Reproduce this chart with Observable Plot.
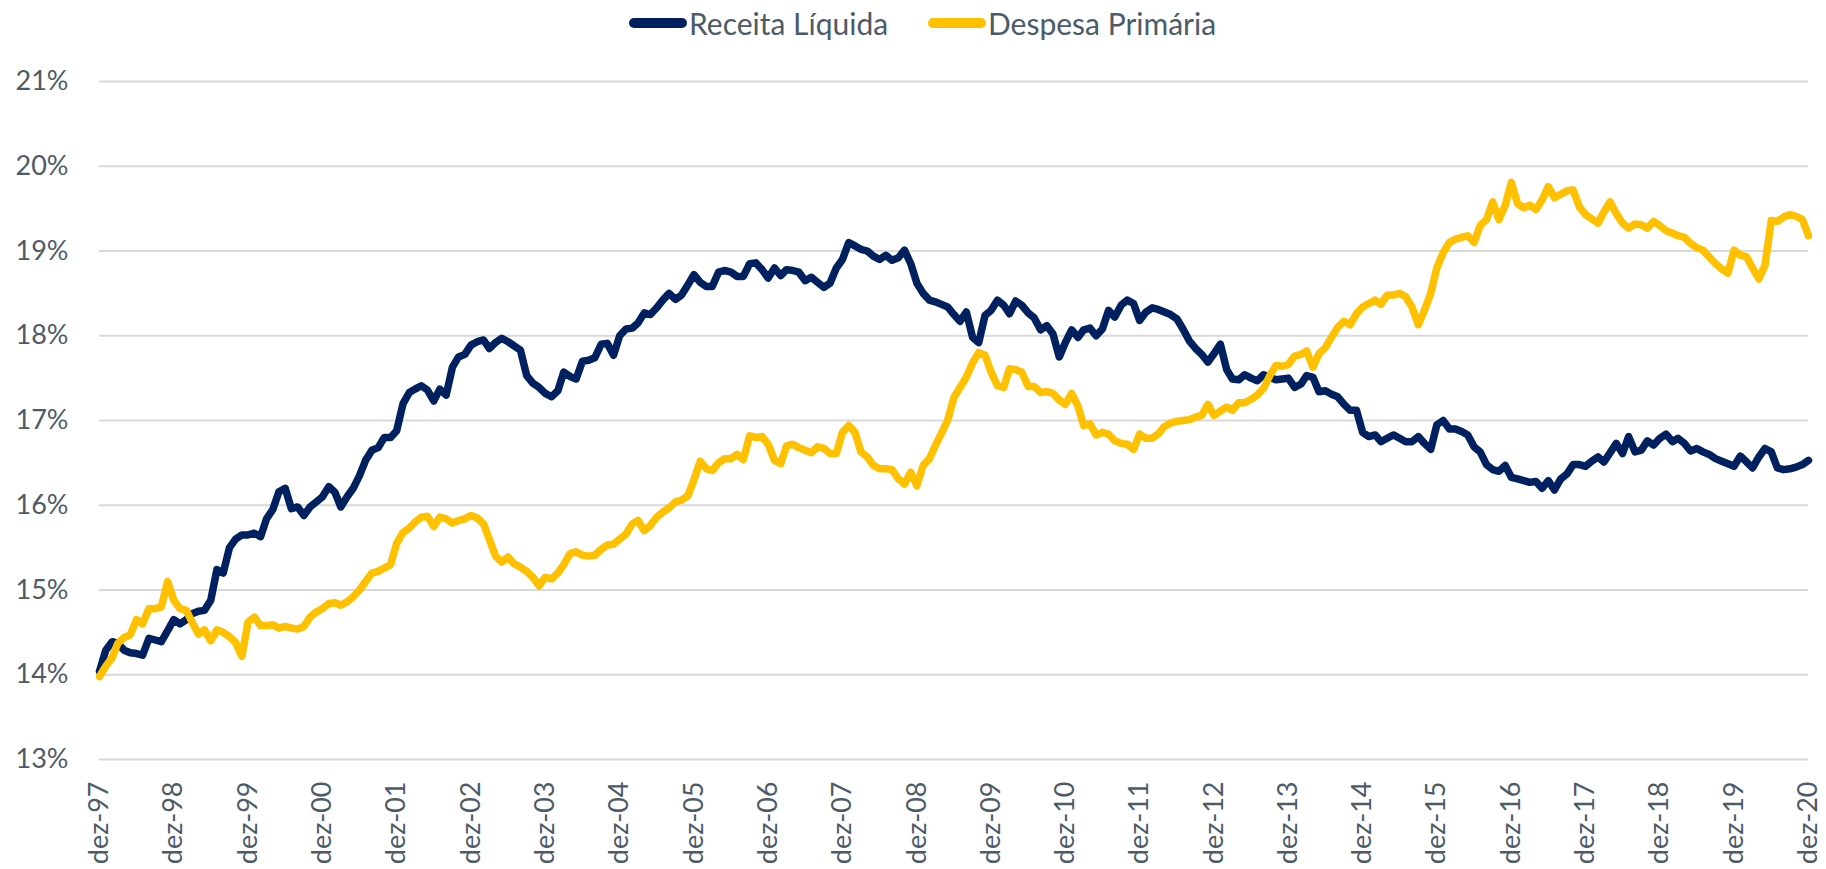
<!DOCTYPE html>
<html>
<head>
<meta charset="utf-8">
<script src="https://cdn.jsdelivr.net/npm/d3@7"></script>
<script src="https://cdn.jsdelivr.net/npm/@observablehq/plot@0.6"></script>
<style>
  html, body { margin: 0; padding: 0; background: #fff; }
  #legend { position: relative; height: 42px; font-family: Lato, sans-serif; font-size: 30px; color: #4d5b69; }
  .item { position: absolute; top: 2px; height: 42px; display: flex; align-items: center; }
  .sw { width: 58px; height: 10px; border-radius: 5px; margin-right: 2px; }
  #chart svg { display: block; }
</style>
</head>
<body>
<div id="legend"></div>
<div id="chart"></div>
<script>
// Monthly series, starting dez-97 (index 0) through dez-20 (index 276), % of GDP
const startYear = 1997, startMonth = 11; // December 1997
const receitaLiquida = [
  14.04,14.29,14.39,14.37,14.29,14.26,14.25,14.23,14.43,14.41,
  14.39,14.52,14.65,14.6,14.65,14.72,14.75,14.76,14.88,15.24,
  15.2,15.5,15.6,15.65,15.65,15.67,15.63,15.84,15.95,16.16,
  16.2,15.96,15.98,15.88,15.98,16.04,16.1,16.22,16.15,15.98,
  16.1,16.2,16.35,16.53,16.65,16.68,16.8,16.8,16.88,17.2,
  17.33,17.37,17.41,17.36,17.23,17.37,17.3,17.63,17.75,17.78,
  17.89,17.93,17.95,17.85,17.92,17.97,17.93,17.88,17.83,17.53,
  17.44,17.39,17.32,17.28,17.35,17.57,17.52,17.49,17.7,17.71,
  17.74,17.9,17.91,17.77,18.0,18.08,18.09,18.15,18.27,18.25,
  18.33,18.42,18.5,18.43,18.48,18.6,18.72,18.63,18.58,18.58,
  18.75,18.77,18.75,18.7,18.7,18.85,18.86,18.78,18.68,18.8,
  18.71,18.78,18.77,18.75,18.65,18.69,18.63,18.57,18.62,18.8,
  18.9,19.1,19.06,19.02,19.0,18.94,18.9,18.95,18.89,18.92,
  19.01,18.85,18.62,18.5,18.42,18.4,18.37,18.34,18.25,18.17,
  18.28,17.98,17.92,18.24,18.3,18.42,18.36,18.26,18.41,18.36,
  18.27,18.21,18.07,18.12,18.02,17.75,17.92,18.07,17.98,18.07,
  18.09,18.0,18.08,18.3,18.22,18.36,18.42,18.38,18.18,18.28,
  18.33,18.31,18.28,18.25,18.2,18.08,17.94,17.85,17.78,17.69,
  17.79,17.9,17.6,17.49,17.48,17.54,17.5,17.47,17.54,17.51,
  17.48,17.49,17.5,17.39,17.43,17.53,17.51,17.34,17.35,17.31,
  17.28,17.19,17.12,17.12,16.86,16.81,16.83,16.75,16.79,16.83,
  16.79,16.75,16.75,16.81,16.73,16.66,16.95,17.0,16.9,16.9,
  16.87,16.83,16.69,16.63,16.48,16.42,16.4,16.47,16.33,16.31,
  16.29,16.27,16.28,16.2,16.29,16.18,16.31,16.37,16.48,16.48,
  16.46,16.52,16.57,16.51,16.62,16.73,16.61,16.81,16.63,16.65,
  16.76,16.71,16.79,16.84,16.75,16.79,16.73,16.64,16.67,16.63,
  16.6,16.55,16.52,16.49,16.46,16.58,16.51,16.44,16.57,16.67,
  16.63,16.44,16.42,16.43,16.45,16.48,16.53
];
const despesaPrimaria = [
  13.98,14.1,14.2,14.37,14.44,14.47,14.65,14.6,14.78,14.78,
  14.8,15.1,14.88,14.78,14.76,14.62,14.48,14.53,14.4,14.53,
  14.5,14.45,14.38,14.22,14.62,14.68,14.58,14.58,14.59,14.55,
  14.57,14.55,14.54,14.57,14.68,14.74,14.78,14.84,14.85,14.82,
  14.86,14.92,15.0,15.1,15.2,15.22,15.26,15.3,15.55,15.68,
  15.73,15.8,15.86,15.87,15.75,15.86,15.84,15.79,15.82,15.84,
  15.88,15.85,15.78,15.6,15.4,15.33,15.39,15.31,15.27,15.22,
  15.15,15.05,15.15,15.13,15.2,15.3,15.43,15.45,15.41,15.4,
  15.41,15.48,15.53,15.54,15.6,15.66,15.78,15.82,15.7,15.76,
  15.86,15.92,15.97,16.04,16.06,16.11,16.3,16.52,16.43,16.41,
  16.5,16.55,16.55,16.6,16.54,16.82,16.8,16.81,16.72,16.53,
  16.49,16.7,16.72,16.68,16.65,16.62,16.69,16.67,16.61,16.61,
  16.86,16.94,16.86,16.63,16.57,16.47,16.43,16.43,16.42,16.31,
  16.25,16.39,16.23,16.47,16.55,16.7,16.85,17.0,17.27,17.39,
  17.51,17.68,17.8,17.77,17.57,17.41,17.39,17.61,17.6,17.57,
  17.4,17.4,17.33,17.34,17.32,17.24,17.19,17.32,17.17,16.94,
  16.96,16.83,16.86,16.84,16.76,16.73,16.72,16.66,16.84,16.79,
  16.79,16.84,16.93,16.97,16.99,17.0,17.01,17.04,17.06,17.19,
  17.06,17.11,17.16,17.12,17.21,17.21,17.25,17.3,17.38,17.53,
  17.65,17.64,17.66,17.76,17.78,17.82,17.63,17.79,17.86,17.98,
  18.1,18.17,18.13,18.26,18.34,18.38,18.42,18.37,18.48,18.48,
  18.5,18.46,18.34,18.13,18.3,18.5,18.8,18.98,19.1,19.14,
  19.16,19.18,19.1,19.3,19.37,19.58,19.37,19.54,19.81,19.56,
  19.51,19.54,19.49,19.6,19.76,19.63,19.67,19.71,19.72,19.52,
  19.43,19.38,19.33,19.46,19.58,19.44,19.33,19.27,19.32,19.31,
  19.27,19.35,19.3,19.24,19.21,19.18,19.16,19.09,19.04,19.01,
  18.93,18.85,18.79,18.74,19.01,18.95,18.93,18.8,18.67,18.83,
  19.36,19.35,19.4,19.43,19.41,19.37,19.18
];
const seriesNames = ["Receita Líquida", "Despesa Primária"];
const seriesColors = ["#002060", "#FFC000"];
const yTicks = [13, 14, 15, 16, 17, 18, 19, 20, 21];
const xTickYears = d3.range(1997, 2021);

const monthDate = i => new Date(Date.UTC(startYear, startMonth + i, 1));
const toRows = arr => arr.map((v, i) => ({date: monthDate(i), v}));
const rowsR = toRows(receitaLiquida);
const rowsD = toRows(despesaPrimaria);
const xTicks = xTickYears.map(y => new Date(Date.UTC(y, 11, 1)));

// Legend
const legend = document.getElementById("legend");
const legendLeft = [629, 928];
seriesNames.forEach((name, k) => {
  const it = document.createElement("div");
  it.className = "item";
  it.style.left = legendLeft[k] + "px";
  const sw = document.createElement("div");
  sw.className = "sw";
  sw.style.background = seriesColors[k];
  const tx = document.createElement("span");
  tx.textContent = name;
  it.appendChild(sw); it.appendChild(tx);
  legend.appendChild(it);
});

const chart = Plot.plot({
  width: 1826,
  height: 827,
  marginLeft: 99,
  marginRight: 18,
  marginTop: 39,
  marginBottom: 110,
  x: {type: "utc", domain: [monthDate(0), monthDate(receitaLiquida.length - 1)]},
  y: {domain: [13, 21]},
  style: {fontFamily: "Lato, sans-serif", fontSize: "27px", color: "#4d5b69", background: "#fff"},
  marks: [
    Plot.gridY(yTicks, {stroke: "#d9d9d9", strokeOpacity: 1, strokeWidth: 2}),
    Plot.axisY(yTicks, {tickSize: 0, tickPadding: 31, tickFormat: d => d + "%", label: null}),
    Plot.axisX(xTicks, {tickSize: 0, tickPadding: 22, tickRotate: -90,
      tickFormat: d => "dez-" + String(d.getUTCFullYear()).slice(2), label: null}),
    Plot.line(rowsR, {x: "date", y: "v", stroke: seriesColors[0], strokeWidth: 7.5, strokeLinejoin: "round", strokeLinecap: "round"}),
    Plot.line(rowsD, {x: "date", y: "v", stroke: seriesColors[1], strokeWidth: 7.5, strokeLinejoin: "round", strokeLinecap: "round"})
  ]
});
document.getElementById("chart").appendChild(chart);
</script>
</body>
</html>
